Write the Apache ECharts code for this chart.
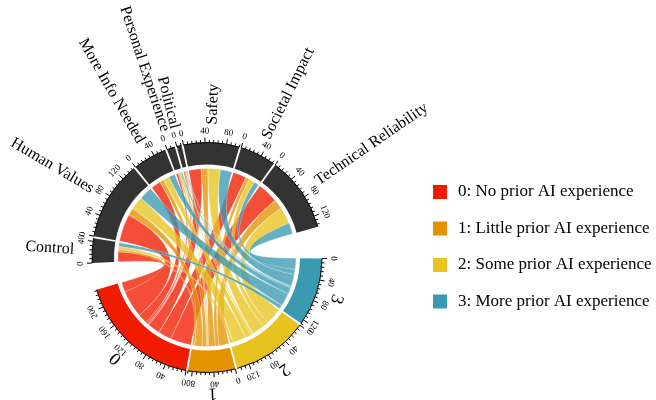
<!DOCTYPE html>
<html>
<head>
<meta charset="utf-8">
<script src="https://cdn.jsdelivr.net/npm/echarts@6/dist/echarts.min.js"></script>
<style>
  html, body { margin: 0; padding: 0; background: #fff; }
  #chart { width: 656px; height: 400px; }
</style>
</head>
<body>
<div id="chart"></div>
<script>
// groups (prior AI experience) and reason categories
const groups = ["0", "1", "2", "3"];
const groupLabels = [
  "0: No prior AI experience",
  "1: Little prior AI experience",
  "2: Some prior AI experience",
  "3: More prior AI experience"
];
const categories = [
  "Control", "Human Values", "More Info Needed", "Personal Experience",
  "Political", "Safety", "Societal Impact", "Technical Reliability"
];
// counts per group, in category order
const flows0 = [24, 66, 24, 5, 3, 30, 32, 50];
const flows1 = [6, 18, 10, 3, 2, 16, 9, 24];
const flows2 = [7, 32, 14, 4, 2, 30, 14, 40];
const flows3 = [9, 32, 15, 3, 2, 28, 12, 27];
const majorStep = 40;
const minorStep = 8;

const flows = [flows0, flows1, flows2, flows3];
const groupColors = ["#F11B00", "#E49200", "#E8C31F", "#3A9AB2"];
const catColor = "#333333";

// layout
const cx = 207, cy = 257.5;
const rLink = 89, rIn = 93, rOut = 115;
const startDeg = 0.5, smallGap = 1, gapAfterGroups = 13.5, gapAfterCats = 16;

const sum = a => a.reduce((s, v) => s + v, 0);
const groupTotals = flows.map(sum);
const catTotals = categories.map((c, j) => sum(flows.map(f => f[j])));
const total = sum(groupTotals) + sum(catTotals);
const nSectors = groups.length + categories.length;
const unitDeg = (360 - (nSectors - 2) * smallGap - gapAfterGroups - gapAfterCats) / total;

// sectors clockwise: 3, 2, 1, 0, then categories
const sectors = [];
let a = startDeg;
[3, 2, 1, 0].forEach((g, k) => {
  const span = groupTotals[g] * unitDeg;
  sectors.push({ name: groups[g], kind: "group", idx: g, total: groupTotals[g], start: a, end: a + span });
  a += span + (k === 3 ? gapAfterGroups : smallGap);
});
categories.forEach((c, j) => {
  const span = catTotals[j] * unitDeg;
  sectors.push({ name: c, kind: "cat", idx: j, total: catTotals[j], start: a, end: a + span });
  a += span + smallGap;
});
const groupSector = g => sectors.find(s => s.kind === "group" && s.idx === g);
const catSector = j => sectors.find(s => s.kind === "cat" && s.idx === j);

// link end positions: in groups categories run in reverse, in categories groups run 0..3
const linkPos = flows.map(() => categories.map(() => ({})));
groups.forEach((gName, g) => {
  let p = groupSector(g).start;
  for (let j = categories.length - 1; j >= 0; j--) {
    const w = flows[g][j] * unitDeg;
    linkPos[g][j].a1 = p; linkPos[g][j].a2 = p + w; p += w;
  }
});
categories.forEach((c, j) => {
  let p = catSector(j).start;
  for (let g = 0; g < groups.length; g++) {
    const w = flows[g][j] * unitDeg;
    linkPos[g][j].b1 = p; linkPos[g][j].b2 = p + w; p += w;
  }
});

const rad = d => d * Math.PI / 180;
const pt = (r, d) => [cx + r * Math.cos(rad(d)), cy + r * Math.sin(rad(d))];
const serif = '"Liberation Serif", "DejaVu Serif", serif';

function linkItem(g) {
  return function (params, api) {
    const j = api.value(0);
    const L = linkPos[g][j];
    if (flows[g][j] <= 0) return null;
    const p1 = pt(rLink, L.a1), p2 = pt(rLink, L.a2), p3 = pt(rLink, L.b1), p4 = pt(rLink, L.b2);
    const R = rLink;
    const d = "M" + p1.join(",") +
      " A" + R + "," + R + " 0 0 1 " + p2.join(",") +
      " Q" + cx + "," + cy + " " + p3.join(",") +
      " A" + R + "," + R + " 0 0 1 " + p4.join(",") +
      " Q" + cx + "," + cy + " " + p1.join(",") + " Z";
    return {
      type: "path",
      shape: { pathData: d },
      style: { fill: groupColors[g], opacity: 0.78, stroke: "rgba(255,255,255,0.7)", lineWidth: 0.5 }
    };
  };
}

function sectorItem(params, api) {
  const s = sectors[api.value(0)];
  const color = s.kind === "group" ? groupColors[s.idx] : catColor;
  const children = [];
  children.push({
    type: "sector",
    shape: { cx, cy, r0: rIn, r: rOut, startAngle: rad(s.start), endAngle: rad(s.end), clockwise: true },
    style: { fill: color }
  });
  children.push({
    type: "arc",
    shape: { cx, cy, r: rOut, startAngle: rad(s.start), endAngle: rad(s.end), clockwise: true },
    style: { stroke: "#000", lineWidth: 1, fill: null }
  });
  for (let v = 0; v <= s.total + 1e-9; v += minorStep) {
    const deg = s.start + v * unitDeg;
    const major = v % majorStep === 0;
    const q1 = pt(rOut, deg), q2 = pt(rOut + (major ? 5 : 2.6), deg);
    children.push({
      type: "line",
      shape: { x1: q1[0], y1: q1[1], x2: q2[0], y2: q2[1] },
      style: { stroke: "#000", lineWidth: 1 }
    });
    if (major) {
      const lp = pt(rOut + 7, deg);
      children.push({
        type: "text", x: lp[0], y: lp[1], rotation: -rad(deg + 90),
        style: { text: String(v), font: "9px " + serif, fill: "#000", align: "center", verticalAlign: "bottom" }
      });
    }
  }
  const mid = (s.start + s.end) / 2;
  if (s.kind === "group") {
    const np = pt(136, mid);
    children.push({
      type: "text", x: np[0], y: np[1], rotation: -rad(mid + 90),
      style: { text: s.name, font: "18px " + serif, fill: "#000", align: "center", verticalAlign: "middle" }
    });
  } else {
    const np = pt(133, mid);
    const m = ((mid % 360) + 360) % 360;
    const leftSide = m > 90 && m < 270;
    children.push({
      type: "text", x: np[0], y: np[1], rotation: leftSide ? -rad(mid) + Math.PI : -rad(mid),
      style: { text: s.name, font: "16px " + serif, fill: "#000", align: leftSide ? "right" : "left", verticalAlign: "middle" }
    });
  }
  return { type: "group", children };
}

const chart = echarts.init(document.getElementById("chart"), null, { renderer: "canvas" });
const series = groups.map((gName, g) => ({
  type: "custom",
  name: groupLabels[g],
  coordinateSystem: "none",
  silent: true,
  itemStyle: { color: groupColors[g] },
  data: categories.map((c, j) => [j]),
  renderItem: linkItem(g),
  z: 1
}));
series.push({
  type: "custom",
  name: "sectors",
  coordinateSystem: "none",
  silent: true,
  data: sectors.map((s, i) => [i]),
  renderItem: sectorItem,
  z: 2
});

chart.setOption({
  animation: false,
  color: groupColors,
  legend: {
    data: groupLabels,
    orient: "vertical",
    left: 433,
    top: 183.5,
    padding: 0,
    itemWidth: 14,
    itemHeight: 14,
    itemGap: 19.5,
    icon: "rect",
    selectedMode: false,
    textStyle: { fontFamily: serif, fontSize: 17, color: "#000", padding: [0, 0, 0, 6] }
  },
  series
});
</script>
</body>
</html>
